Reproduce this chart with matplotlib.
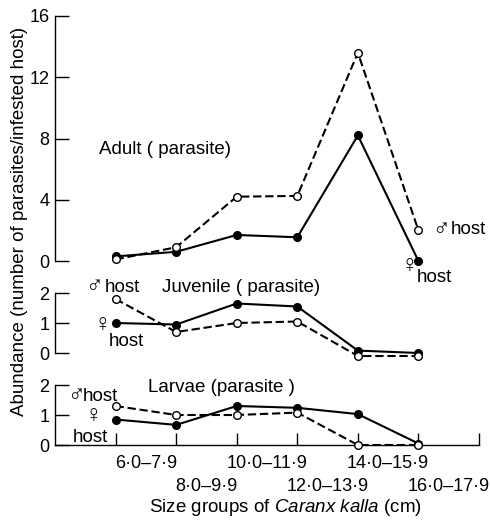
import numpy as np
import matplotlib
matplotlib.use("Agg")
import matplotlib.pyplot as plt

# size groups of Caranx kalla (cm)
size_groups = ["6·0–7·9", "8·0–9·9", "10·0–11·9", "12·0–13·9", "14·0–15·9", "16·0–17·9"]

# abundance, male host (open, dashed) / female host (filled, solid)
adult_male = [0.1, 0.9, 4.2, 4.25, 13.6, 2.0]
adult_female = [0.3, 0.6, 1.7, 1.55, 8.2, 0.0]
juvenile_male = [1.8, 0.7, 1.0, 1.05, -0.1, -0.1]
juvenile_female = [1.0, 0.95, 1.65, 1.55, 0.08, 0.0]
larvae_male = [1.3, 1.0, 1.0, 1.08, 0.0, 0.0]
larvae_female = [0.85, 0.67, 1.3, 1.24, 1.03, 0.05]

plt.rcParams.update(
    {
        "font.family": ["Liberation Sans", "DejaVu Sans"],
        "font.size": 13,
        "mathtext.fontset": "custom",
        "mathtext.rm": "Liberation Sans",
        "mathtext.it": "Liberation Sans:italic",
        "axes.linewidth": 1.0,
    }
)

W, H = 490, 520
FS = 13.5
SYM = 17


def ax_rect(px_left, px_right, py_top, py_bottom):
    return [px_left / W, 1 - py_bottom / H, (px_right - px_left) / W, (py_bottom - py_top) / H]


def draw_pair(ax, male, female):
    x = np.arange(len(size_groups))
    ax.plot(x, female, "-", color="black", lw=1.5, marker="o", ms=5.5,
            mfc="black", mec="black", clip_on=False, zorder=3)
    ax.plot(x, male, "--", color="black", lw=1.5, dashes=(4.0, 1.8), marker="o", ms=5.5,
            mfc="white", mec="black", mew=1.0, clip_on=False, zorder=4)


def style_y(ax, ticks, ylim):
    ax.set_xlim(-1, 6)
    ax.set_ylim(*ylim)
    ax.set_yticks(ticks)
    ax.tick_params(axis="y", direction="in", length=10, width=1.0, pad=4, labelsize=13)
    for s in ["top", "right"]:
        ax.spines[s].set_visible(False)


def host_label(ax, x, y, sym, shift=14):
    ax.text(x, y, sym, ha="left", va="center", fontsize=SYM, clip_on=False)
    ax.annotate("host", (x, y), xytext=(shift, 0), textcoords="offset points",
                ha="left", va="center", fontsize=FS, annotation_clip=False)


fig = plt.figure(figsize=(W / 100, H / 100), dpi=100)

ax1 = fig.add_axes(ax_rect(55, 479, 16, 261))
ax2 = fig.add_axes(ax_rect(55, 479, 293, 353))
ax3 = fig.add_axes(ax_rect(55, 479, 385, 445))

# top: adult parasites
draw_pair(ax1, adult_male, adult_female)
style_y(ax1, [0, 4, 8, 12, 16], (0, 16))
ax1.spines["bottom"].set_visible(False)
ax1.set_xticks([])
ax1.text(-0.28, 7.3, "Adult ( parasite)", ha="left", va="center", fontsize=FS)
host_label(ax1, 5.22, 2.05, "♂", shift=14)
ax1.text(4.7, -0.4, "♀", ha="left", va="center", fontsize=SYM, clip_on=False)
ax1.text(4.98, -1.1, "host", ha="left", va="center", fontsize=FS, clip_on=False)

# middle: juvenile parasites
draw_pair(ax2, juvenile_male, juvenile_female)
style_y(ax2, [0, 1, 2], (0, 2))
ax2.spines["bottom"].set_visible(False)
ax2.set_xticks([])
host_label(ax2, -0.5, 2.2, "♂", shift=14)
ax2.text(0.77, 2.2, "Juvenile ( parasite)", ha="left", va="center", fontsize=FS, clip_on=False)
ax2.text(-0.36, 0.9, "♀", ha="left", va="center", fontsize=SYM)
ax2.text(-0.12, 0.4, "host", ha="left", va="center", fontsize=FS)

# bottom: larvae
draw_pair(ax3, larvae_male, larvae_female)
style_y(ax3, [0, 1, 2], (0, 2))
ax3.set_xticks(np.arange(len(size_groups) + 1))
ax3.set_xticklabels([])
ax3.tick_params(axis="x", which="major", direction="in", length=9, width=1.0)
for i, lab in enumerate(size_groups):
    dy = -18 if i % 2 == 0 else -42
    ax3.annotate(lab, (i + 0.5, 0), xycoords=("data", "axes fraction"),
                 xytext=(0, dy * 0.72), textcoords="offset points",
                 ha="center", va="center", fontsize=13, annotation_clip=False)
host_label(ax3, -0.8, 1.62, "♂", shift=11.5)
ax3.text(0.53, 1.9, "Larvae (parasite )", ha="left", va="center", fontsize=FS, clip_on=False)
ax3.text(-0.52, 0.92, "♀", ha="left", va="center", fontsize=SYM)
ax3.text(-0.71, 0.25, "host", ha="left", va="center", fontsize=FS)

fig.text(285 / W, 1 - 508 / H, r"Size groups of $\it{Caranx\ kalla}$ (cm)",
         ha="center", va="center", fontsize=FS)
fig.text(20 / W, 1 - 221 / H, "Abundance (number of parasites/infested host)",
         rotation=90, ha="center", va="center", fontsize=FS)

fig.savefig("out.png", dpi=100)
